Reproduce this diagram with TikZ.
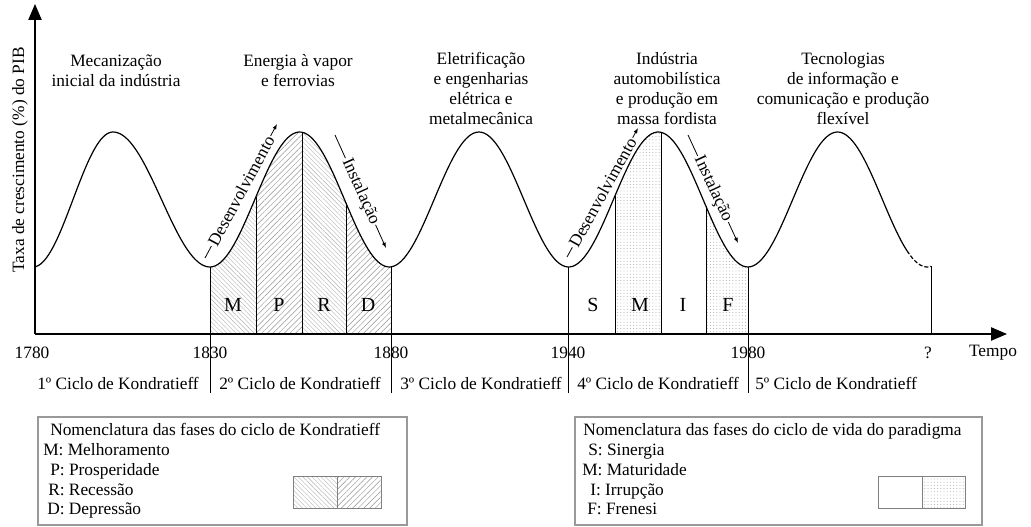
\documentclass[tikz,border=0pt]{standalone}
\usepackage{fontspec}
\setmainfont{Liberation Serif}
\usetikzlibrary{arrows.meta,patterns.meta}

\tikzset{
  declare function={wave(\t)=199.5+67.5*cos(2.0078*(\t-210));
                    risei(\t)=199.5-67.5*cos(2.25*(\t-113));
                    falli(\t)=199.5-67.5*cos(1.8557*(\t-113));},
  axis/.style={line width=0.9pt,-{Triangle[length=12pt,width=10pt]}},
  curve/.style={line width=0.9pt},
  hatchne/.style={pattern={Lines[angle=45,distance=3pt,line width=0.35pt]},pattern color=gray!85},
  hatchnw/.style={pattern={Lines[angle=-45,distance=2.4pt,line width=0.3pt]},pattern color=gray!60},
  dotfill/.style={pattern={Dots[distance=2.4pt,radius=0.35pt]},pattern color=gray!75},
  phase/.style={font=\fontsize{15}{17}\selectfont},
  trend/.style={-{Latex[length=4pt,width=3pt]},line width=0.6pt},
  trendlabel/.style={sloped,fill=white,inner sep=1pt},
  toplabel/.style={align=center,anchor=north},
  legitem/.style={anchor=west,inner sep=0pt,text height=1.6ex,text depth=0.4ex},
  legbox/.style={draw=gray!80,line width=0.8pt}
}

\begin{document}
\begin{tikzpicture}[x=0.75pt,y=-0.75pt,font=\fontsize{13}{15}\selectfont]
\useasboundingbox (0,0) rectangle (1031,527);

% fases sob a curva
\begin{scope}
\clip (210,334) -- plot[domain=210:391,samples=80] (\x,{wave(\x)}) -- (391,334) -- cycle;
\path[hatchnw] (210,100) rectangle (256,334);
\path[hatchne] (256,100) rectangle (302,334);
\path[hatchnw] (302,100) rectangle (346,334);
\path[hatchne] (346,100) rectangle (391,334);
\end{scope}
\begin{scope}
\clip (568,334) -- plot[domain=568:748,samples=80] (\x,{wave(\x)}) -- (748,334) -- cycle;
\path[dotfill] (615,100) rectangle (661,334);
\path[dotfill] (706,100) rectangle (748,334);
\end{scope}
\foreach \x in {256,302,346,615,661,706} \draw[line width=0.6pt] (\x,334) -- (\x,{wave(\x)});

\draw[curve] plot[domain=35:113,samples=40,smooth] (\x,{risei(\x)})
  -- plot[domain=113:210,samples=40,smooth] (\x,{falli(\x)})
  -- plot[domain=210:907,samples=260,smooth] (\x,{wave(\x)});
\draw[curve,dash pattern=on 3pt off 1.5pt] plot[domain=907:931,samples=10] (\x,{wave(\x)});

\coordinate (o) at (35,334);
\coordinate (xend) at (1007,334);
\coordinate (yend) at (35,4);
\draw[axis] (o) -- (xend);
\draw[axis] (o) -- (yend);

\node[rotate=90] (ylab) at (20,160) {Taxa de crescimento (\%) do PIB};

\node (t1780) at (32,353) {1780};
\foreach \x/\ano in {210/1830,391/1880,568/1940,748/1980} {
  \draw[line width=0.6pt] (\x,{wave(\x)}) -- (\x,393);
  \node (t\ano) at (\x,353) {\ano};
}
\draw[line width=0.6pt] (931,{wave(931)}) -- (931,334);
\node (tq) at (928,353) {?};
\node (tempo) at (993,353) {Tempo};

\foreach \x/\n in {118/1,300/2,481/3,658/4,836/5}
  \node (c\n) at (\x,383) {{\n}º Ciclo de Kondratieff};

\node[toplabel] (era1) at (116,50) {Mecanização\\inicial da indústria};
\node[toplabel] (era2) at (298,50) {Energia à vapor\\e ferrovias};
\node[toplabel] (era3) at (481,48) {Eletrificação\\e engenharias\\elétrica e\\metalmecânica};
\node[toplabel] (era4) at (667,48) {Indústria\\automobilística\\e produção em\\massa fordista};
\node[toplabel] (era5) at (843,48) {Tecnologias\\de informação e\\comunicação e produção\\flexível};

\foreach \x/\l in {233/M,279/P,324/R,368/D,593/S,640/M,683/I,728/F}
  \node[phase] (f\x) at (\x,305) {\l};

\coordinate (d1a) at (205,258);
\coordinate (d1b) at (277,124);
\coordinate (i1a) at (335,135);
\coordinate (i1b) at (386,248);
\coordinate (d2a) at (567,257);
\coordinate (d2b) at (638,128);
\coordinate (i2a) at (688,135);
\coordinate (i2b) at (738,243);
\draw[trend] (d1a) -- node[trendlabel] (des1) {Desenvolvimento} (d1b);
\draw[trend] (i1a) -- node[trendlabel] (ins1) {Instalação} (i1b);
\draw[trend] (d2a) -- node[trendlabel] (des2) {Desenvolvimento} (d2b);
\draw[trend] (i2a) -- node[trendlabel] (ins2) {Instalação} (i2b);

\draw[legbox] (38,417) rectangle (407,525);
\node[legitem] (lk) at (50,432) {Nomenclatura das fases do ciclo de Kondratieff};
\node[legitem] (lkm) at (43,452) {M: Melhoramento};
\node[legitem] (lkp) at (50,472) {P: Prosperidade};
\node[legitem] (lkr) at (48,492) {R: Recessão};
\node[legitem] (lkd) at (47,511) {D: Depressão};
\draw[gray,hatchnw] (293,476) rectangle (337,508);
\draw[gray,hatchne] (337,476) rectangle (381,508);

\draw[legbox] (575,417) rectangle (982,525);
\node[legitem] (lp) at (583,432) {Nomenclatura das fases do ciclo de vida do paradigma};
\node[legitem] (lps) at (588,452) {S: Sinergia};
\node[legitem] (lpm) at (582,472) {M: Maturidade};
\node[legitem] (lpi) at (590,492) {I: Irrupção};
\node[legitem] (lpf) at (587,511) {F: Frenesi};
\draw[gray] (878,476) rectangle (922,508);
\draw[gray,dotfill] (922,476) rectangle (965,508);

\end{tikzpicture}
\end{document}
